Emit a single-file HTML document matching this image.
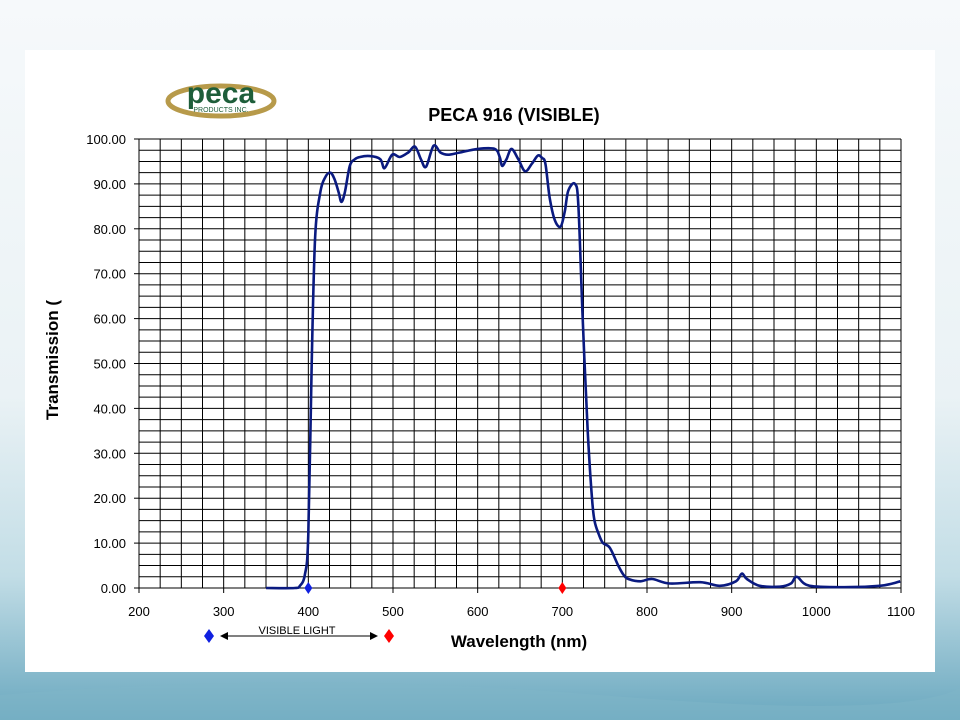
<!DOCTYPE html>
<html><head><meta charset="utf-8"><style>
body{margin:0;width:960px;height:720px;overflow:hidden;font-family:"Liberation Sans",Arial,sans-serif;}
</style></head><body>
<svg width="960" height="720" xmlns="http://www.w3.org/2000/svg">
<defs>
<linearGradient id="bg" x1="0" y1="0" x2="0" y2="1">
<stop offset="0" stop-color="#f6f9fb"/><stop offset="0.55" stop-color="#eaf2f5"/><stop offset="0.8" stop-color="#c2dde6"/><stop offset="1" stop-color="#6aa8bf"/>
</linearGradient>
</defs>
<rect width="960" height="720" fill="url(#bg)"/>
<path d="M0 695 Q300 670 600 695 T960 688 L960 720 L0 720Z" fill="#7fb5c8" opacity="0.5"/>
<rect x="25" y="50" width="910" height="622" fill="#fff"/>
<g>
<ellipse cx="221" cy="101" rx="53" ry="15" fill="none" stroke="#b79a4a" stroke-width="5"/>
<text x="221" y="103" text-anchor="middle" font-size="30" font-weight="bold" fill="#1e5e3a">peca</text>
<text x="221" y="112" text-anchor="middle" font-size="7" fill="#1e5e3a">PRODUCTS INC.</text>
</g>
<text x="514" y="121" text-anchor="middle" font-size="18" font-weight="bold">PECA 916 (VISIBLE)</text>
<g id="grid"></g>
<g id="axes"></g>
<path id="curve" fill="none" stroke="#0a1a80" stroke-width="2.6" stroke-linejoin="round"/>
<g id="marks"></g>
<text transform="translate(58,360) rotate(-90)" text-anchor="middle" font-size="17" font-weight="bold">Transmission (</text>
<text x="519" y="647" text-anchor="middle" font-size="17" font-weight="bold">Wavelength (nm)</text>
<g>
<path d="M209 629 L214 636 L209 643 L204 636Z" fill="#1020e0"/>
<path d="M389 629 L394 636 L389 643 L384 636Z" fill="#f00"/>
<line x1="224" y1="636" x2="374" y2="636" stroke="#000" stroke-width="1"/>
<path d="M220 636 L228 632 L228 640Z"/><path d="M378 636 L370 632 L370 640Z"/>
<text x="297" y="634" text-anchor="middle" font-size="11">VISIBLE LIGHT</text>
</g>
</svg>
<script>
const xTicks=[200,300,400,500,600,700,800,900,1000,1100];
const yTicks=[0,10,20,30,40,50,60,70,80,90,100];
const wl=[350,384,390,396,400,404,408,414,420,426,431,436,439,443,449,455,461,473,485,490,499,508,518,526,533,539,548,556,565,579,600,620,626,629,634,640,648,656,664,671,676,680,685,691,698,703,707,715,719,724,730,735,738,743,748,756,766,772,778,792,806,827,863,886,905,912,918,933,957,970,977,992,1040,1075,1090,1099];
const tr=[0,0,0.5,3,12,50,78,88,91.5,92.5,91,88,86,88,94,95.5,96,96.2,95.5,93.5,96.5,96,97,98.3,95.5,93.8,98.5,97,96.5,97,97.8,97.8,96,94,95.5,97.8,95.5,92.8,94.5,96.3,95.8,94.5,87,82,80.5,84,88.5,90,85,60,35,20,15,12,10,9,5,3,2,1.5,2,1,1.3,0.5,1.5,3.2,2,0.5,0.3,1,2.5,0.5,0.2,0.5,1,1.5];
const markers=[{w:400,c:"#1020e0",n:"violet-marker"},{w:700,c:"#f00",n:"red-marker"}];
const NS="http://www.w3.org/2000/svg";
const X=w=>139+(w-200)*(762/900), Y=v=>588-v*4.49;
const g=document.getElementById('grid'), ax=document.getElementById('axes'), mk=document.getElementById('marks');
function el(t,a,p){const e=document.createElementNS(NS,t);for(const k in a)e.setAttribute(k,a[k]);p.appendChild(e);return e;}
for(let w=200;w<=1100;w+=25){const l=el('line',{x1:X(w),x2:X(w),y1:Y(100),y2:Y(0),stroke:'#000','stroke-width':1},g);

}
for(let v=0;v<=100;v+=2.5){const l=el('line',{x1:X(200),x2:X(1100),y1:Y(v),y2:Y(v),stroke:'#000','stroke-width':1},g);

}
yTicks.forEach(v=>{el('line',{x1:X(200)-5,x2:X(200),y1:Y(v),y2:Y(v),stroke:'#000'},ax);
const t=el('text',{x:126,y:Y(v)+5,'text-anchor':'end','font-size':13},ax);t.textContent=v.toFixed(2);

});
xTicks.forEach(w=>{el('line',{x1:X(w),x2:X(w),y1:Y(0),y2:Y(0)+5,stroke:'#000'},ax);
const t=el('text',{x:X(w),y:616,'text-anchor':'middle','font-size':13},ax);t.textContent=w;

});
const pts=wl.map((w,i)=>[X(w),Y(tr[i])]);
let d='M'+pts[0][0].toFixed(1)+' '+pts[0][1].toFixed(1);
for(let i=0;i<pts.length-1;i++){const p0=pts[Math.max(0,i-1)],p1=pts[i],p2=pts[i+1],p3=pts[Math.min(pts.length-1,i+2)];
const k=1/6;
d+=` C${(p1[0]+(p2[0]-p0[0])*k).toFixed(1)} ${(p1[1]+(p2[1]-p0[1])*k).toFixed(1)} ${(p2[0]-(p3[0]-p1[0])*k).toFixed(1)} ${(p2[1]-(p3[1]-p1[1])*k).toFixed(1)} ${p2[0].toFixed(1)} ${p2[1].toFixed(1)}`;}
document.getElementById('curve').setAttribute('d',d);
markers.forEach(m=>{const x=X(m.w),y=Y(0);const p=el('path',{d:`M${x} ${y-6}L${x+4} ${y}L${x} ${y+6}L${x-4} ${y}Z`,fill:m.c},mk);

});
</script>
</body></html>
